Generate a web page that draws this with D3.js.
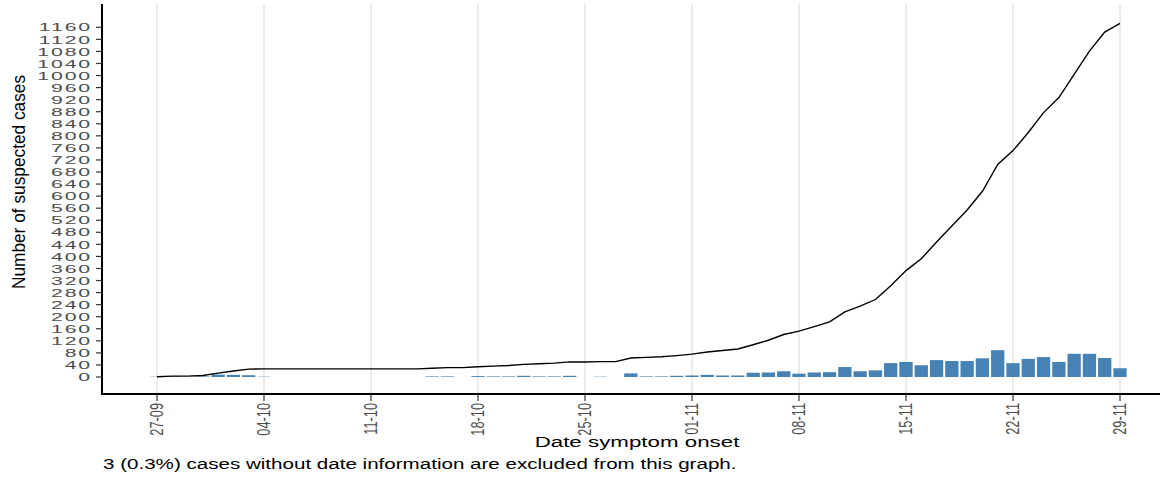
<!DOCTYPE html>
<html><head><meta charset="utf-8">
<script src="https://cdn.jsdelivr.net/npm/d3@7"></script>
<style>body{margin:0;background:#fff}svg{display:block}</style>
</head><body>
<svg id="chart" width="1171" height="477"></svg>
<script>
// ---- data (year assumed 2020) ----
const dates = [
 "27-09","28-09","29-09","30-09",
 "01-10","02-10","03-10","04-10","05-10","06-10","07-10","08-10","09-10","10-10",
 "11-10","12-10","13-10","14-10","15-10","16-10","17-10","18-10","19-10","20-10",
 "21-10","22-10","23-10","24-10","25-10","26-10","27-10","28-10","29-10","30-10","31-10",
 "01-11","02-11","03-11","04-11","05-11","06-11","07-11","08-11","09-11","10-11",
 "11-11","12-11","13-11","14-11","15-11","16-11","17-11","18-11","19-11","20-11",
 "21-11","22-11","23-11","24-11","25-11","26-11","27-11","28-11","29-11"];
const dailyCases = [
 1,2,0,2,
 8,7,6,1,0,0,0,0,0,0,
 0,0,0,0,2,2,0,3,2,2,
 4,2,2,4,0,1,0,12,2,2,4,
 5,7,5,5,14,15,19,11,15,16,
 33,19,22,46,50,39,56,53,53,62,
 89,46,60,66,50,77,77,63,29];
const cumulativeCases = [
 1,3,3,5,
 13,20,26,27,27,27,27,27,27,27,
 27,27,27,27,29,31,31,34,36,38,
 42,44,46,50,50,51,51,63,65,67,71,
 76,83,88,93,107,122,141,152,167,183,
 216,235,257,303,353,392,448,501,554,616,
 705,751,811,877,927,1004,1081,1144,1173];
const xTickLabels = ["27-09","04-10","11-10","18-10","25-10","01-11","08-11","15-11","22-11","29-11"];
const yTickValues = [0,40,80,120,160,200,240,280,320,360,400,440,480,520,560,600,640,680,720,760,800,840,880,920,960,1000,1040,1080,1120,1160];
const yTitle = "Number of suspected cases";
const xTitle = "Date symptom onset";
const caption = "3 (0.3%) cases without date information are excluded from this graph.";

// ---- drawing ----
const parse = s => d3.utcParse("%d-%m-%Y")(s + "-2020");
const data = dates.map((d, i) => ({date: parse(d), n: dailyCases[i], cum: cumulativeCases[i]}));

const svg = d3.select("#chart");
const FONT = "'Liberation Sans', Arial, Helvetica, sans-serif";
const SX = 1.47;

const x = d3.scaleUtc().domain([parse("27-09"), parse("29-11")]).range([157, 1120]);
const y = d3.scaleLinear().domain([0, 1160]).range([377, 27.3]);
const dayW = x(parse("28-09")) - x(parse("27-09"));

const axisLeft = 102, axisBottom = 394, panelTop = 4, panelRight = 1160;

// vertical grid lines
svg.append("g").selectAll("line").data(xTickLabels).join("line")
  .attr("x1", d => x(parse(d))).attr("x2", d => x(parse(d)))
  .attr("y1", panelTop).attr("y2", axisBottom)
  .attr("stroke", "#ebebeb").attr("stroke-width", 2);

// bars
svg.append("g").selectAll("rect").data(data.filter(d => d.n > 0)).join("rect")
  .attr("x", d => x(d.date) - dayW * 0.435)
  .attr("width", dayW * 0.87)
  .attr("y", d => y(d.n))
  .attr("height", d => y(0) - y(d.n))
  .attr("fill", "#4682B4");

// cumulative line
svg.append("path").datum(data)
  .attr("d", d3.line().x(d => x(d.date)).y(d => y(d.cum)))
  .attr("fill", "none").attr("stroke", "#000").attr("stroke-width", 1.4);

// axes lines
svg.append("line").attr("x1", axisLeft).attr("x2", axisLeft).attr("y1", panelTop).attr("y2", axisBottom + 0.5)
  .attr("stroke", "#000").attr("stroke-width", 2);
svg.append("line").attr("x1", axisLeft - 1).attr("x2", panelRight).attr("y1", axisBottom).attr("y2", axisBottom)
  .attr("stroke", "#000").attr("stroke-width", 1.8);

// y ticks + labels
const gy = svg.append("g");
gy.selectAll("line").data(yTickValues).join("line")
  .attr("x1", axisLeft - 6).attr("x2", axisLeft).attr("y1", d => y(d)).attr("y2", d => y(d))
  .attr("stroke", "#333").attr("stroke-width", 1.2);
gy.selectAll("text").data(yTickValues).join("text")
  .attr("transform", d => `translate(92,${y(d)}) scale(1.85,1)`)
  .attr("text-anchor", "end").attr("dy", "0.36em")
  .attr("font-family", FONT).attr("font-size", 11.5).attr("letter-spacing", 1)
  .attr("fill", "#4d4d4d").text(d => d);

// x ticks + labels
const gx = svg.append("g");
gx.selectAll("line").data(xTickLabels).join("line")
  .attr("x1", d => x(parse(d))).attr("x2", d => x(parse(d)))
  .attr("y1", axisBottom).attr("y2", axisBottom + 7)
  .attr("stroke", "#333").attr("stroke-width", 1.2);
gx.selectAll("text").data(xTickLabels).join("text")
  .attr("transform", d => `translate(${x(parse(d))},403) scale(1.4,1) rotate(-90)`)
  .attr("text-anchor", "end").attr("dy", "0.36em")
  .attr("font-family", FONT).attr("font-size", 12.8)
  .attr("fill", "#4d4d4d").text(d => d);

// titles
svg.append("text")
  .attr("transform", `translate(18,182) scale(1.05,1) rotate(-90)`)
  .attr("text-anchor", "middle").attr("dy", "0.36em")
  .attr("font-family", FONT).attr("font-size", 17.3).attr("fill", "#000").text(yTitle);
svg.append("text")
  .attr("transform", `translate(637,447) scale(${SX},1)`)
  .attr("text-anchor", "middle")
  .attr("font-family", FONT).attr("font-size", 15.2).attr("fill", "#000").text(xTitle);
svg.append("text")
  .attr("transform", `translate(103,469) scale(${SX},1)`)
  .attr("text-anchor", "start")
  .attr("font-family", FONT).attr("font-size", 14).attr("fill", "#000").text(caption);
</script>
</body></html>
